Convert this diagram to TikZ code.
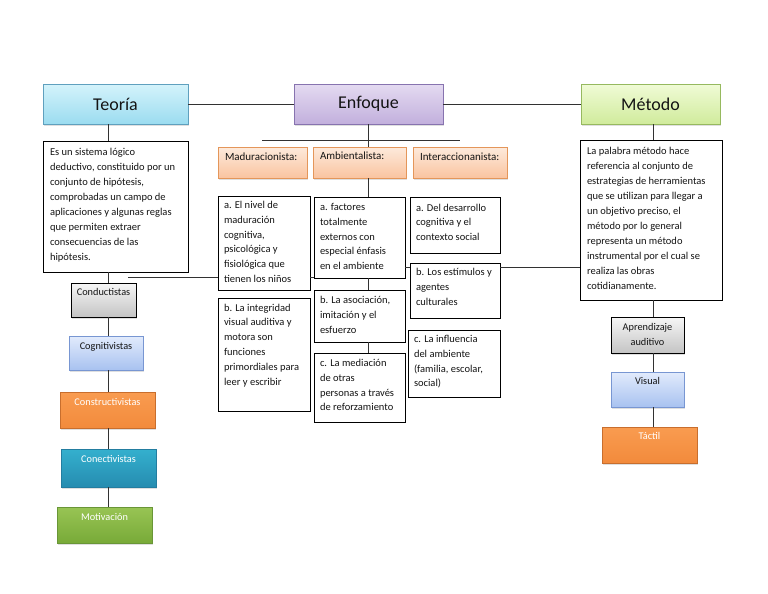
\documentclass[tikz,border=0pt]{standalone}
\usepackage{fontspec}
\setmainfont{Carlito}
\usetikzlibrary{shadows}
\definecolor{txtc}{RGB}{20,20,20}
\definecolor{linec}{RGB}{50,50,50}
\definecolor{teoT}{RGB}{212,243,251}\definecolor{teoB}{RGB}{155,220,240}\definecolor{teoD}{RGB}{95,160,190}
\definecolor{enfT}{RGB}{228,218,241}\definecolor{enfB}{RGB}{194,176,221}\definecolor{enfD}{RGB}{135,115,175}
\definecolor{metT}{RGB}{240,251,214}\definecolor{metB}{RGB}{208,235,156}\definecolor{metD}{RGB}{150,185,95}
\definecolor{hdrT}{RGB}{253,234,220}\definecolor{hdrB}{RGB}{250,196,160}\definecolor{hdrD}{RGB}{228,150,90}
\definecolor{gryT}{RGB}{246,246,246}\definecolor{gryB}{RGB}{196,196,196}
\definecolor{bluT}{RGB}{226,235,252}\definecolor{bluB}{RGB}{168,194,240}\definecolor{bluD}{RGB}{120,150,210}
\definecolor{orgT}{RGB}{249,156,80}\definecolor{orgB}{RGB}{242,138,60}\definecolor{orgD}{RGB}{200,110,45}
\definecolor{cyaT}{RGB}{52,176,206}\definecolor{cyaB}{RGB}{38,140,176}\definecolor{cyaD}{RGB}{35,125,160}
\definecolor{grnT}{RGB}{152,196,84}\definecolor{grnB}{RGB}{120,170,56}\definecolor{grnD}{RGB}{105,150,55}
% W H padx firstbaseline text
\newcommand{\lbox}[5]{\parbox[c][#2pt][t]{#1pt}{\raggedright\leftskip=#3pt\rule{0pt}{#4pt}#5\par}}
% W H firstbaseline text
\newcommand{\cbox}[4]{\parbox[c][#2pt][t]{#1pt}{\centering\rule{0pt}{#3pt}#4\par}}
\begin{document}
\begin{tikzpicture}[x=1pt,y=-1pt,
  base/.style={anchor=north west,inner sep=0pt,outer sep=0pt,line width=0.8pt,text=txtc},
  shad/.style={drop shadow={shadow xshift=0.8pt,shadow yshift=-1.6pt,opacity=0.25}},
  title/.style={base,shad,minimum height=40pt,font=\fontsize{18}{21}\selectfont},
  txtbox/.style={base,draw=black,fill=white,font=\fontsize{10.5}{15}\selectfont},
  smallbox/.style={base,draw=black,fill=white,font=\fontsize{10.5}{14.8}\selectfont},
  hdr/.style={base,shad,draw=hdrD,top color=hdrT,bottom color=hdrB,font=\fontsize{11}{14}\selectfont},
  cat/.style={base,shad,font=\fontsize{10.3}{15}\selectfont},
  conn/.style={draw=linec,line width=0.9pt}]
\useasboundingbox (0,0) rectangle (768,594);
\fill[white] (0,0) rectangle (768,594);

% column guide coordinates
\coordinate (lcol) at (108,0);
\coordinate (mcol) at (368,0);
\coordinate (rcol) at (653,0);

% titles
\node[title,draw=teoD,top color=teoT,bottom color=teoB,minimum width=145pt] (teoria) at (43,84) {Teoría};
\node[title,draw=enfD,top color=enfT,bottom color=enfB,minimum width=149pt] (enfoque) at (294,84) {Enfoque};
\node[title,draw=metD,top color=metT,bottom color=metB,minimum width=139pt] (metodo) at (581,84) {Método};

% big text boxes
\node[txtbox] (teoriatxt) at (43,141) {\lbox{145}{131}{7}{14}{Es un sistema lógico\\deductivo, constituido por un\\conjunto de hipótesis,\\comprobadas un campo de\\aplicaciones y algunas reglas\\que permiten extraer\\consecuencias de las\\hipótesis.}};
\node[txtbox] (metodotxt) at (580,140) {\lbox{142}{160}{7}{14.5}{La palabra método hace\\referencia al conjunto de\\estrategias de herramientas\\que se utilizan para llegar a\\un objetivo preciso, el\\método por lo general\\representa un método\\instrumental por el cual se\\realiza las obras\\cotidianamente.}};

% headers
\node[hdr] (madh) at (218,147) {\lbox{89}{31}{7}{13}{Maduracionista:}};
\node[hdr] (ambh) at (313,147) {\lbox{93}{31}{7}{12}{Ambientalista:}};
\node[hdr] (inth) at (413,147) {\lbox{94}{31}{7}{13}{Interaccionanista:}};

% maduracionista column
\node[smallbox] (mada) at (218,196) {\lbox{92}{94}{6}{12.5}{a. El nivel de\\maduración\\cognitiva,\\psicológica y\\fisiológica que\\tienen los niños}};
\node[smallbox] (madb) at (218,298) {\lbox{92}{113}{6}{13}{b. La integridad\\visual auditiva y\\motora son\\funciones\\primordiales para\\leer y escribir}};

% ambientalista column
\node[smallbox] (amba) at (314,197) {\lbox{91}{81}{6}{13.5}{a. factores\\totalmente\\externos con\\especial énfasis\\en el ambiente}};
\node[smallbox] (ambb) at (314,290) {\lbox{91}{52}{6}{13.5}{b. La asociación,\\imitación y el\\esfuerzo}};
\node[smallbox] (ambc) at (314,353) {\lbox{91}{69}{6}{13.5}{c. La mediación\\de otras\\personas a través\\de reforzamiento}};

% interaccionanista column
\node[smallbox] (inta) at (410,197) {\lbox{90}{56}{6}{14}{a. Del desarrollo\\cognitiva y el\\contexto social}};
\node[smallbox] (intb) at (410,263) {\lbox{90}{55}{6}{12.5}{b. Los estímulos y\\agentes\\culturales}};
\node[smallbox] (intc) at (408,330) {\lbox{92}{67}{6}{12.5}{c. La influencia\\del ambiente\\(familia, escolar,\\social)}};

% left column categories
\node[cat,draw=black,top color=gryT,bottom color=gryB] (conduct) at (71,283) {\cbox{65}{34}{12.5}{Conductistas}};
\node[cat,draw=bluD,top color=bluT,bottom color=bluB] (cognit) at (69,336) {\cbox{74}{34}{13}{Cognitivistas}};
\node[cat,draw=orgD,top color=orgT,bottom color=orgB,text=white] (construct) at (60,392) {\cbox{95}{36}{13}{Constructivistas}};
\node[cat,draw=cyaD,top color=cyaT,bottom color=cyaB,text=white] (conect) at (61,449) {\cbox{95}{38}{13}{Conectivistas}};
\node[cat,draw=grnD,top color=grnT,bottom color=grnB,text=white] (motiv) at (57,507) {\cbox{95}{36}{13}{Motivación}};

% right column categories
\node[cat,draw=black,top color=gryT,bottom color=gryB] (aprend) at (611,317) {\cbox{73}{36}{13.5}{Aprendizaje\\auditivo}};
\node[cat,draw=bluD,top color=bluT,bottom color=bluB] (visual) at (611,372) {\cbox{73}{35}{12.5}{Visual}};
\node[cat,draw=orgD,top color=orgT,bottom color=orgB,text=white] (tactil) at (602,427) {\cbox{95}{36}{12.5}{Táctil}};

% connectors between titles
\draw[conn] (teoria.east) -- (enfoque.west);
\draw[conn] (enfoque.east) -- (metodo.west);

% left column
\draw[conn] (teoria.south -| lcol) -- (teoriatxt.north -| lcol);
\draw[conn] (teoriatxt.south -| lcol) -- (conduct.north -| lcol);
\draw[conn] (conduct.south -| lcol) -- (cognit.north -| lcol);
\draw[conn] (cognit.south -| lcol) -- (construct.north -| lcol);
\draw[conn] (construct.south -| lcol) -- (conect.north -| lcol);
\draw[conn] (conect.south -| lcol) -- (motiv.north -| lcol);

% right column
\draw[conn] (metodo.south -| rcol) -- (metodotxt.north -| rcol);
\draw[conn] (metodotxt.south -| rcol) -- (aprend.north -| rcol);
\draw[conn] (aprend.south -| rcol) -- (visual.north -| rcol);
\draw[conn] (visual.south -| rcol) -- (tactil.north -| rcol);

% middle tree
\coordinate (hl) at (262,140);
\coordinate (hr) at (460,140);
\draw[conn] (hl) -- (hr);
\draw[conn] (enfoque.south -| mcol) -- (ambh.north -| mcol);
\draw[conn] (ambh.south -| mcol) -- (amba.north -| mcol);
\draw[conn] (amba.south -| mcol) -- (ambb.north -| mcol);
\draw[conn] (ambb.south -| mcol) -- (ambc.north -| mcol);

% cross line
\coordinate (lfree) at (128,277);
\coordinate (rlev) at (0,267);
\draw[conn] (lfree) -- (mada.west |- lfree);
\draw[conn] (mada.east |- lfree) -- (amba.west |- lfree);
\draw[conn] (amba.east |- rlev) -- (intb.west |- rlev);
\draw[conn] (intb.east |- rlev) -- (metodotxt.west |- rlev);
\end{tikzpicture}
\end{document}
